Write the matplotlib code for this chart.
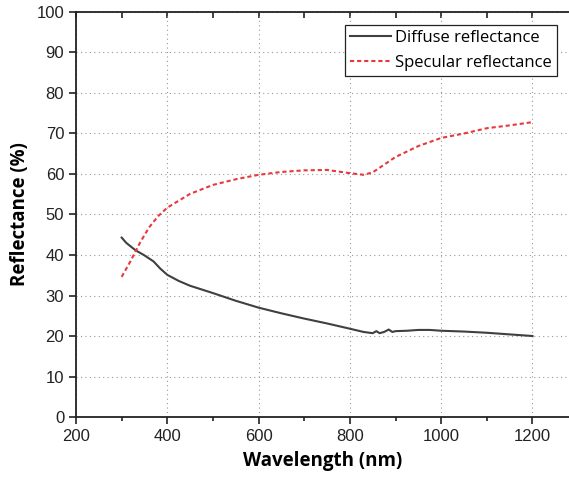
import matplotlib
matplotlib.use("Agg")
import matplotlib.pyplot as plt
from matplotlib.ticker import MultipleLocator

# wavelength (nm) and reflectance (%)
diffuse_wl = [300, 310, 330, 350, 370, 385, 400, 425, 450, 500, 550, 600, 650, 700,
              750, 800, 830, 850, 858, 865, 875, 885, 893, 900, 925, 950, 975,
              1000, 1050, 1100, 1150, 1200]
diffuse_r = [44.3, 43.0, 41.2, 39.9, 38.4, 36.6, 35.1, 33.6, 32.4, 30.6, 28.7, 27.0,
             25.6, 24.3, 23.1, 21.8, 21.0, 20.7, 21.2, 20.7, 21.0, 21.6, 21.0, 21.2,
             21.3, 21.5, 21.5, 21.3, 21.1, 20.8, 20.4, 20.0]

specular_wl = [300, 320, 340, 360, 380, 400, 450, 500, 550, 600, 650, 700, 750,
               800, 830, 850, 900, 950, 1000, 1050, 1100, 1150, 1200]
specular_r = [34.6, 38.6, 43.0, 46.8, 49.6, 51.7, 55.1, 57.3, 58.7, 59.8, 60.5, 60.9,
              61.0, 60.2, 59.8, 60.4, 64.2, 66.9, 68.9, 70.0, 71.3, 72.0, 72.8]

plt.rcParams['font.family'] = ['Liberation Sans', 'DejaVu Sans']

fig = plt.figure(figsize=(5.69, 4.79), dpi=100)
ax = fig.add_axes([0.1336, 0.1294, 0.8664, 0.8456])

ax.plot(diffuse_wl, diffuse_r, color='#404040', linewidth=1.5, label='Diffuse reflectance')
ax.plot(specular_wl, specular_r, color='#e8383d', linewidth=1.5, linestyle=(0, (2.0, 1.4)),
        label='Specular reflectance')

ax.set_xlim(200, 1280)
ax.set_ylim(0, 100)
ax.xaxis.set_major_locator(MultipleLocator(200))
ax.xaxis.set_minor_locator(MultipleLocator(100))
ax.yaxis.set_major_locator(MultipleLocator(10))

ax.grid(True, which='major', color='#999999', linestyle=(0, (1, 3)), linewidth=0.8)
ax.spines['right'].set_visible(False)
for s in ['left', 'bottom', 'top']:
    ax.spines[s].set_linewidth(1.3)
    ax.spines[s].set_color('#222222')

ax.tick_params(axis='x', which='both', direction='out', top=False, labelsize=12,
               width=1.2, colors='#222222')
ax.tick_params(axis='x', which='major', length=5)
ax.tick_params(axis='x', which='minor', length=3)
ax.tick_params(axis='y', direction='out', length=5, width=1.2, labelsize=12, colors='#222222')

# inward ticks on the top spine
top = ax.secondary_xaxis('top')
top.xaxis.set_major_locator(MultipleLocator(100))
top.tick_params(direction='in', length=4, width=1.2, labeltop=False, colors='#222222')
top.spines['top'].set_visible(False)

ax.set_xlabel('Wavelength (nm)', fontsize=13.5, fontweight='bold', family='Open Sans', labelpad=5)
ax.set_ylabel('Reflectance (%)', fontsize=13.5, fontweight='bold', family='Open Sans', labelpad=5)

leg = ax.legend(loc='upper right', bbox_to_anchor=(0.976, 0.968), fancybox=False,
                edgecolor='#222222', framealpha=1, prop={'family': 'Open Sans', 'size': 12},
                handlelength=2.5, handletextpad=0.25, borderpad=0.3, labelspacing=0.55,
                borderaxespad=0)
leg.get_frame().set_linewidth(0.9)

fig.savefig('out.png', dpi=100)
